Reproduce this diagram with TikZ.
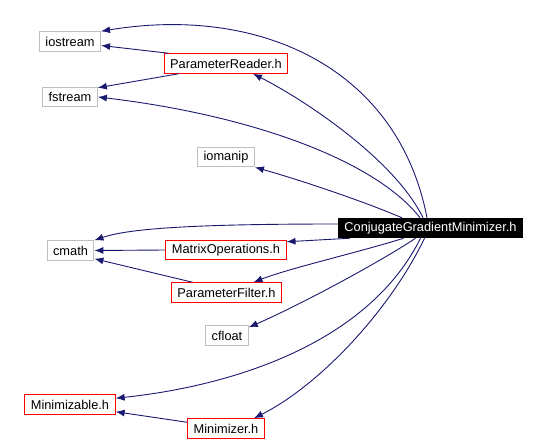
\documentclass[tikz,border=0pt]{standalone}
\usepackage{fontspec}
\setmainfont{Liberation Sans}
\usepackage{tikz}
\usetikzlibrary{arrows.meta,positioning}
\definecolor{edgeblue}{RGB}{25,25,112}
\definecolor{sysgray}{RGB}{191,191,191}

\begin{document}
\begin{tikzpicture}[x=1pt,y=-1pt,
		hdr/.style={
			draw,
			line width=1pt,
			minimum height=19.5pt,
			inner xsep=6pt,
			inner ysep=0pt,
			font=\fontsize{12.8}{15}\selectfont
		},
		sys/.style={
			hdr,
			draw=sysgray
		},
		proj/.style={
			hdr,
			draw=red
		},
		root/.style={
			hdr,
			draw=black,
			fill=black,
			text=white
		},
		dep/.style={
			draw=edgeblue,
			line width=0.9pt,
			-{Latex[length=9pt,width=7pt]}
		}
		]
		
		\useasboundingbox (0,0) rectangle (548,441);
		
		\node[sys] at (70, 41.5)  
		(ios) {iostream};
		\node[proj] at (226, 63.5)  
		(prd) {ParameterReader.h};
		\node[sys] at (70, 97)  
		(fst) {fstream};
		\node[sys] at (226, 157)  
		(iom) {iomanip};
		
		\node[root] at (430.5, 228)  
		(cgm) {ConjugateGradientMinimizer.h};
		
		\node[sys] at (70.5, 250.5)  
		(cma) {cmath};
		\node[proj] at (226, 250)  
		(mop) {MatrixOperations.h};
		\node[proj] at (226.5, 292.5)  
		(pfl) {ParameterFilter.h};
		\node[sys] at (227, 335.5)  
		(cfl) {cfloat};
		
		\node[proj] at (70, 404.5)  
		(mzb) {Minimizable.h};
		\node[proj] at (226, 428.5)  
		(mzr) {Minimizer.h};
		
		\draw[dep] ([xshift=-3.5pt]cgm.north) .. controls (398,68) and (260,5) .. (ios.north east);
		\draw[dep] ([xshift=-7.5pt]cgm.north) .. controls (395,160) and (305,100) .. ([xshift=27pt]prd.south);
		\draw[dep] ([xshift=-10.5pt]cgm.north) .. controls (375,160) and (250,115) .. (fst.east);
		\draw[dep] ([xshift=-28.5pt]cgm.north) .. controls (360,200) and (300,180) .. (iom.south east);
		\draw[dep] ([yshift=4pt]cgm.west) .. controls (200,224) and (130,228) .. (cma.north east);
		\draw[dep] ([xshift=12pt]cgm.south west) -- ([yshift=-2pt]mop.north east);
		\draw[dep] ([xshift=-27pt]cgm.south) .. controls (360,252) and (290,268) .. ([xshift=27pt]pfl.north);
		\draw[dep] ([xshift=-15pt]cgm.south) .. controls (380,262) and (300,305) .. ([yshift=-2pt]cfl.north east);
		\draw[dep] ([xshift=-10pt]cgm.south) .. controls (370,340) and (240,385) .. ([yshift=-4pt]mzb.north east);
		\draw[dep] ([xshift=-6pt]cgm.south) .. controls (390,310) and (320,385) .. ([xshift=28pt]mzr.north);
		\draw[dep] ([xshift=5pt]prd.north west) -- ([yshift=-4pt]ios.east);
		\draw[dep] ([xshift=15pt]prd.south west) -- ([yshift=-1pt]fst.north east);
		\draw[dep] (mop.west) -- (cma.east);
		\draw[dep] ([xshift=-34pt]pfl.north) -- ([yshift=2pt]cma.south east);
		\draw[dep] ([yshift=-4pt]mzr.north west) -- ([yshift=3pt]mzb.south east);
		
		\end{tikzpicture}
\end{document}
